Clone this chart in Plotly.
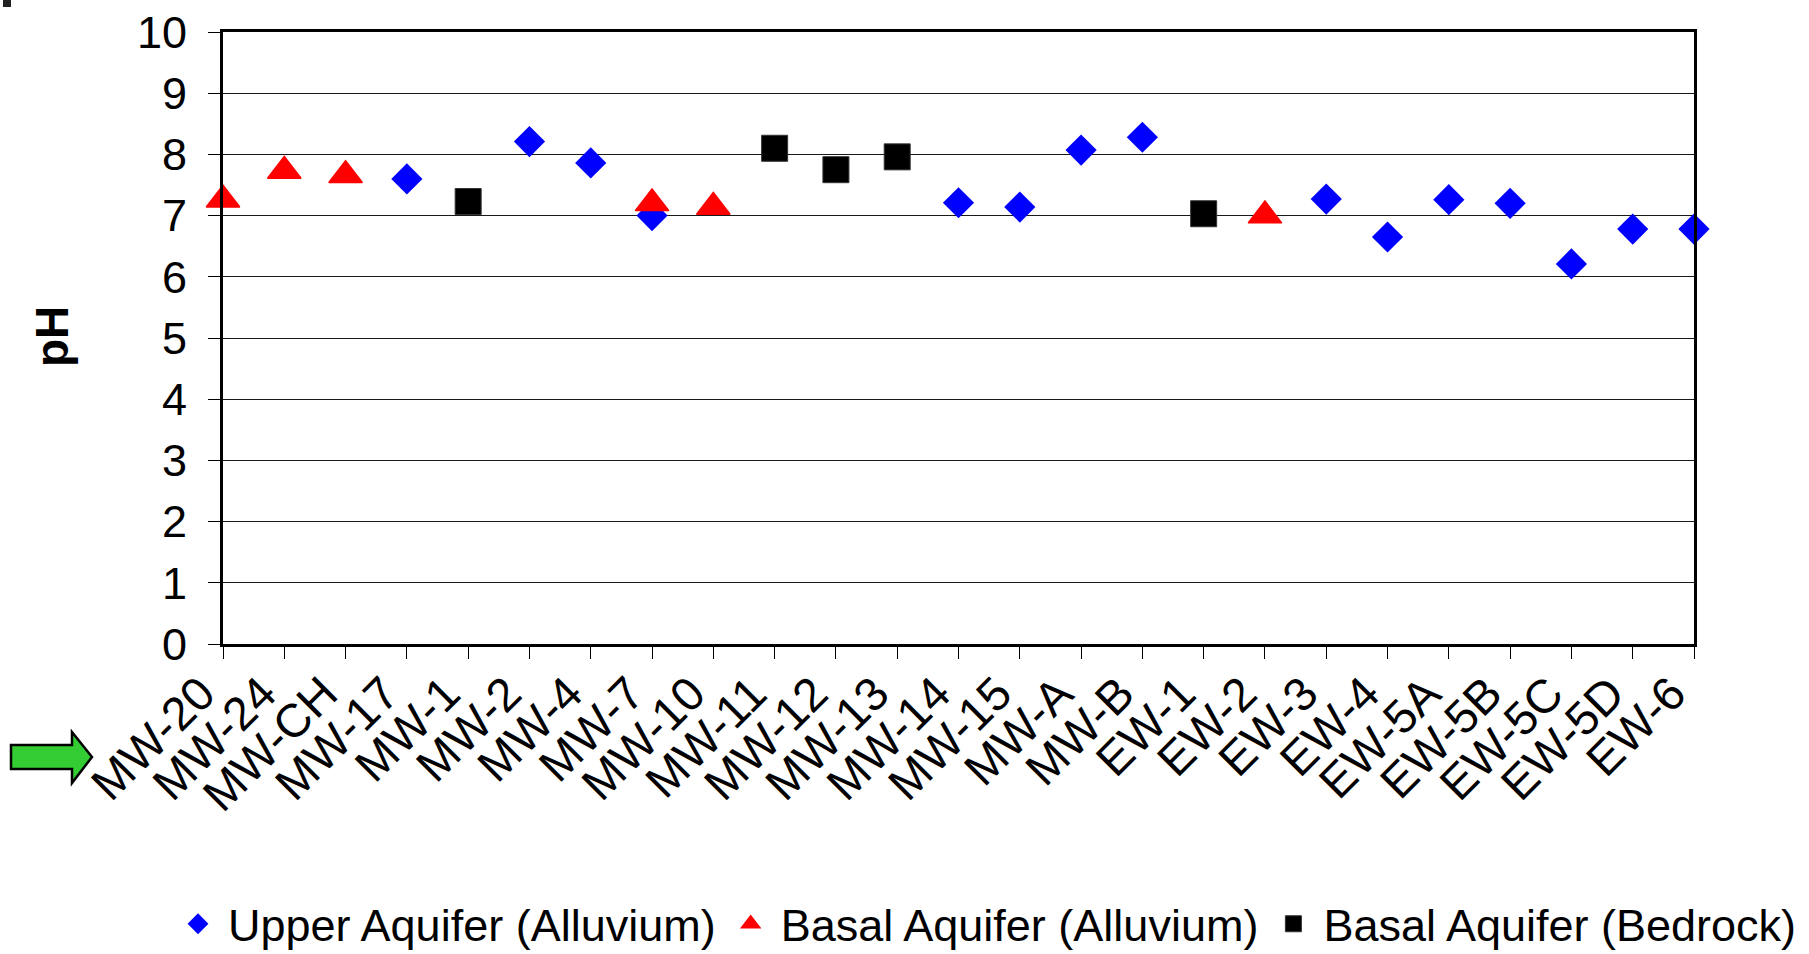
import plotly.graph_objects as go

# ---------------- data ----------------
wells = ["MW-20", "MW-24", "MW-CH", "MW-17", "MW-1", "MW-2", "MW-4", "MW-7", "MW-10",
         "MW-11", "MW-12", "MW-13", "MW-14", "MW-15", "MW-A", "MW-B", "EW-1", "EW-2",
         "EW-3", "EW-4", "EW-5A", "EW-5B", "EW-5C", "EW-5D", "EW-6"]

upper_wells = ["MW-17", "MW-2", "MW-4", "MW-7", "MW-14", "MW-15", "MW-A", "MW-B",
               "EW-3", "EW-4", "EW-5A", "EW-5B", "EW-5C", "EW-5D", "EW-6"]
upper_ph = [7.60, 8.21, 7.86, 7.00, 7.21, 7.14, 8.07, 8.28,
            7.27, 6.65, 7.26, 7.20, 6.21, 6.78, 6.78]

basal_alluv_wells = ["MW-20", "MW-24", "MW-CH", "MW-7", "MW-10", "EW-2"]
basal_alluv_ph = [7.26, 7.73, 7.66, 7.20, 7.14, 7.00]

bedrock_wells = ["MW-1", "MW-11", "MW-12", "MW-13", "EW-1"]
bedrock_ph = [7.23, 8.10, 7.75, 7.96, 7.03]

series_names = ["Upper Aquifer (Alluvium)", "Basal Aquifer (Alluvium)", "Basal Aquifer (Bedrock)"]
y_ticks = list(range(0, 11))

# ---------------- layout geometry (pixels) ----------------
W_PX, H_PX = 1809, 954
L, R, T, B = 223, 1694, 32, 644
PW, PH = R - L, B - T


def px(x):
    return (x - L) / PW


def py(y):
    return (B - y) / PH


FONT = "Liberation Sans, Arial, sans-serif"

fig = go.Figure()
fig.add_trace(go.Scatter(
    x=upper_wells, y=upper_ph, mode="markers", name=series_names[0],
    marker=dict(symbol="diamond", size=24, color="#0000FF"),
    cliponaxis=False))
fig.add_trace(go.Scatter(
    x=basal_alluv_wells, y=basal_alluv_ph, mode="markers", name=series_names[1],
    marker=dict(symbol="triangle-up", size=29, color="#FF0000",
                line=dict(color="#FF0000", width=1.5)),
    cliponaxis=False))
fig.add_trace(go.Scatter(
    x=bedrock_wells, y=bedrock_ph, mode="markers", name=series_names[2],
    marker=dict(symbol="square", size=26, color="#000000",
                line=dict(color="#333333", width=1)),
    cliponaxis=False))

# green arrow (pixel path converted to paper coords)
arrow_pts = [(11, 745), (72, 745), (72, 732), (92, 757), (72, 783), (72, 769), (11, 769)]
path = "M " + " L ".join(f"{px(x):.5f},{py(y):.5f}" for x, y in arrow_pts) + " Z"

shapes = [
    dict(type="path", xref="paper", yref="paper", path=path,
         fillcolor="#33CC33", line=dict(color="#000000", width=2.5)),
    dict(type="rect", xref="paper", yref="paper",
         x0=px(3), x1=px(11), y0=py(0), y1=py(7),
         fillcolor="#222222", line=dict(width=0)),
]

fig.update_layout(
    width=W_PX, height=H_PX,
    margin=dict(l=L, r=W_PX - R, t=T, b=H_PX - B, autoexpand=False),
    paper_bgcolor="white", plot_bgcolor="white",
    font=dict(family=FONT, size=44, color="black"),
    showlegend=True,
    legend=dict(orientation="h", x=px(168), xanchor="left", y=py(960), yanchor="bottom",
                font=dict(family=FONT, size=45, color="black"),
                itemwidth=50, bgcolor="rgba(0,0,0,0)", borderwidth=0,
                traceorder="normal"),
    shapes=shapes,
    annotations=[dict(text="<b>pH</b>", xref="paper", yref="paper",
                      x=px(52), y=py(337), xanchor="center", yanchor="middle",
                      textangle=-90, showarrow=False,
                      font=dict(family=FONT, size=46, color="black"))],
)

fig.update_xaxes(
    type="category", categoryorder="array", categoryarray=wells,
    range=[0, len(wells) - 1], showgrid=False, zeroline=False,
    showline=True, linecolor="black", linewidth=3, mirror=True,
    ticks="outside", ticklen=12, tickwidth=1, tickcolor="black",
    tickangle=-45, ticklabelshift=-22, ticklabelstandoff=-12,
    tickfont=dict(family=FONT, size=47, color="black"),
)
fig.update_yaxes(
    range=[0, 10], tickmode="array", tickvals=y_ticks, ticktext=[str(v) for v in y_ticks],
    showgrid=True, gridcolor="#1a1a1a", gridwidth=1, zeroline=False,
    showline=True, linecolor="black", linewidth=3, mirror=True,
    ticks="outside", ticklen=12, tickwidth=1, tickcolor="black",
    ticklabelstandoff=12,
    tickfont=dict(family=FONT, size=45, color="black"),
)

fig.write_html("out.html")
